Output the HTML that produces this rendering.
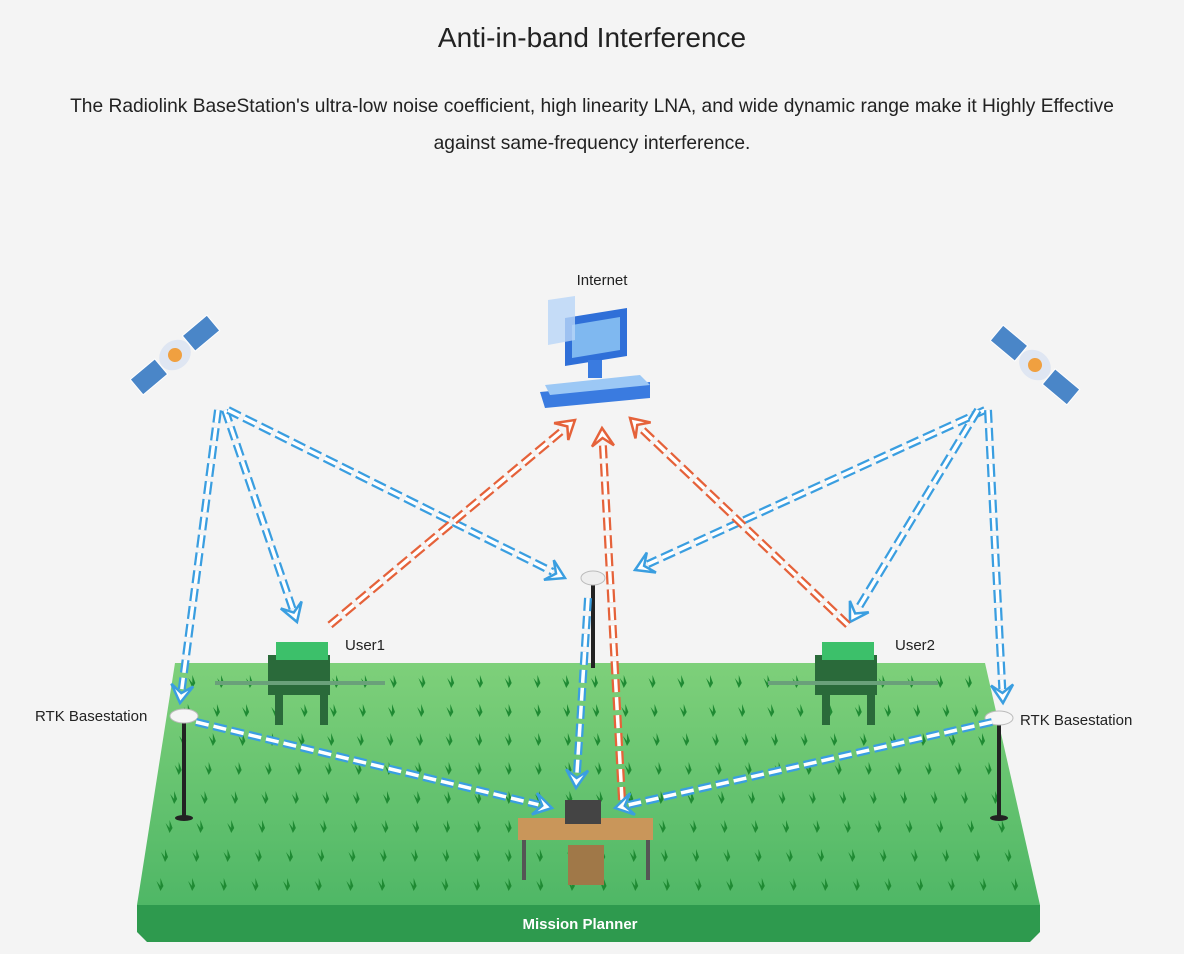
<!DOCTYPE html>
<html><head><meta charset="utf-8"><style>
html,body{margin:0;padding:0;background:#f4f4f4;width:1184px;height:954px;overflow:hidden;font-family:"Liberation Sans",sans-serif;}
.t{position:absolute;left:0;width:1184px;text-align:center;color:#222;}
</style></head><body>
<div class="t" style="top:22px;font-size:28px;">Anti-in-band Interference</div>
<div class="t" style="top:88px;font-size:19.2px;line-height:37px;">The Radiolink BaseStation's ultra-low noise coefficient, high linearity LNA, and wide dynamic range make it Highly Effective<br>against same-frequency interference.</div>
<svg width="1184" height="954" style="position:absolute;left:0;top:0" id="s">
<defs>
<linearGradient id="fg" x1="0" y1="0" x2="0" y2="1"><stop offset="0" stop-color="#7ed07a"/><stop offset="1" stop-color="#4fb766"/></linearGradient>
</defs>
<polygon points="137,905 1040,905 1040,932 1030,942 147,942 137,932" fill="#2e9a4e"/>
<polygon points="175,663 985,663 1040,905 137,905" fill="url(#fg)"/>
<g id="plants"></g>
<text x="580" y="929" fill="#fff" font-size="15" font-weight="bold" text-anchor="middle">Mission Planner</text>
<g transform="translate(175,355) rotate(-40)">
<rect x="-50" y="-10" width="32" height="20" fill="#4a86c8" stroke="#fff"/><rect x="18" y="-10" width="32" height="20" fill="#4a86c8" stroke="#fff"/>
<ellipse cx="0" cy="0" rx="17" ry="14" fill="#dfe6f2"/><circle cx="0" cy="0" r="7" fill="#f0a040"/></g>
<g transform="translate(1035,365) rotate(40)">
<rect x="-50" y="-10" width="32" height="20" fill="#4a86c8" stroke="#fff"/><rect x="18" y="-10" width="32" height="20" fill="#4a86c8" stroke="#fff"/>
<ellipse cx="0" cy="0" rx="17" ry="14" fill="#dfe6f2"/><circle cx="0" cy="0" r="7" fill="#f0a040"/></g>
<text x="602" y="285" font-size="15" text-anchor="middle" fill="#222">Internet</text>
<polygon points="540,392 650,382 650,398 545,408" fill="#3a7be0"/>
<polygon points="545,385 640,375 650,385 550,395" fill="#9cc8f5"/>
<polygon points="565,318 627,308 627,356 565,366" fill="#2f6fd8"/>
<polygon points="572,325 620,317 620,350 572,358" fill="#7fb8f0"/>
<rect x="588" y="360" width="14" height="18" fill="#3a7be0"/>
<polygon points="548,300 575,296 575,340 548,345" fill="#b9d6f7" opacity=".8"/>
<rect x="591" y="580" width="4" height="88" fill="#222"/><ellipse cx="593" cy="578" rx="12" ry="7" fill="#eee" stroke="#bbb"/>
<rect x="182" y="718" width="4" height="100" fill="#222"/><ellipse cx="184" cy="818" rx="9" ry="3" fill="#222"/><ellipse cx="184" cy="716" rx="14" ry="7" fill="#f5f5f5" stroke="#bbb"/>
<rect x="997" y="720" width="4" height="98" fill="#222"/><ellipse cx="999" cy="818" rx="9" ry="3" fill="#222"/><ellipse cx="999" cy="718" rx="14" ry="7" fill="#f5f5f5" stroke="#bbb"/>
<text x="35" y="721" font-size="15" fill="#222">RTK Basestation</text>
<text x="1020" y="725" font-size="15" fill="#222">RTK Basestation</text>
<g fill="#2a6a3a"><rect x="268" y="655" width="62" height="40"/><rect x="215" y="681" width="170" height="4" fill="#6aa07a"/><rect x="275" y="690" width="8" height="35"/><rect x="320" y="690" width="8" height="35"/></g>
<rect x="276" y="642" width="52" height="18" fill="#3cc06a"/>
<g fill="#2a6a3a"><rect x="815" y="655" width="62" height="40"/><rect x="768" y="681" width="170" height="4" fill="#6aa07a"/><rect x="822" y="690" width="8" height="35"/><rect x="867" y="690" width="8" height="35"/></g>
<rect x="822" y="642" width="52" height="18" fill="#3cc06a"/>
<text x="345" y="650" font-size="15" fill="#222">User1</text>
<text x="895" y="650" font-size="15" fill="#222">User2</text>
<rect x="518" y="818" width="135" height="22" fill="#c9965a"/><rect x="522" y="840" width="4" height="40" fill="#555"/><rect x="646" y="840" width="4" height="40" fill="#555"/>
<rect x="565" y="800" width="36" height="24" fill="#444"/><rect x="568" y="845" width="36" height="40" fill="#a07848"/>
<g id="ar"></g>
</svg>
<script>
var ns="http://www.w3.org/2000/svg";
var p=document.getElementById('plants');
for(var r=0;r<8;r++){var y=680+r*29;var t=(y-663)/242;var L=175-38*t+20,R=985+55*t-20;var n=28;for(var c=0;c<n;c++){var x=L+(R-L)*c/(n-1);var e=document.createElementNS(ns,'path');e.setAttribute('d','M'+x+','+(y+8)+' l-4,-10 l4,5 l0,-8 l3,8 l3,-5 z');e.setAttribute('fill','#1f8a33');p.appendChild(e);}}
var a=document.getElementById('ar');
function ln(x1,y1,x2,y2,col){
 var dx=x2-x1,dy=y2-y1,l=Math.hypot(dx,dy),ux=dx/l,uy=dy/l;
 var ex=x2-ux*14,ey=y2-uy*14;
 [[col,8],['#fff',3.5]].forEach(function(s){var e=document.createElementNS(ns,'line');e.setAttribute('x1',x1);e.setAttribute('y1',y1);e.setAttribute('x2',ex);e.setAttribute('y2',ey);e.setAttribute('stroke',s[0]);e.setAttribute('stroke-width',s[1]);e.setAttribute('stroke-dasharray','13 5');a.appendChild(e);});
 var px=-uy,py=ux;var h=document.createElementNS(ns,'polygon');
 h.setAttribute('points',x2+','+y2+' '+(ex+px*11-ux*4)+','+(ey+py*11-uy*4)+' '+(ex+ux*4)+','+(ey+uy*4)+' '+(ex-px*11-ux*4)+','+(ey-py*11-uy*4));
 h.setAttribute('fill','#fff');h.setAttribute('stroke',col);h.setAttribute('stroke-width','2.5');a.appendChild(h);}
var B='#3a9ee0',O='#e5623a';
ln(218,410,180,703,B);ln(225,410,297,622,B);ln(228,410,565,578,B);
ln(985,410,635,570,B);ln(978,410,850,622,B);ln(988,410,1003,703,B);
ln(330,625,575,420,O);ln(622,800,602,428,O);ln(848,625,630,418,O);
ln(196,722,552,808,B);ln(588,598,576,788,B);ln(992,722,615,808,B);
</script>
</body></html>
